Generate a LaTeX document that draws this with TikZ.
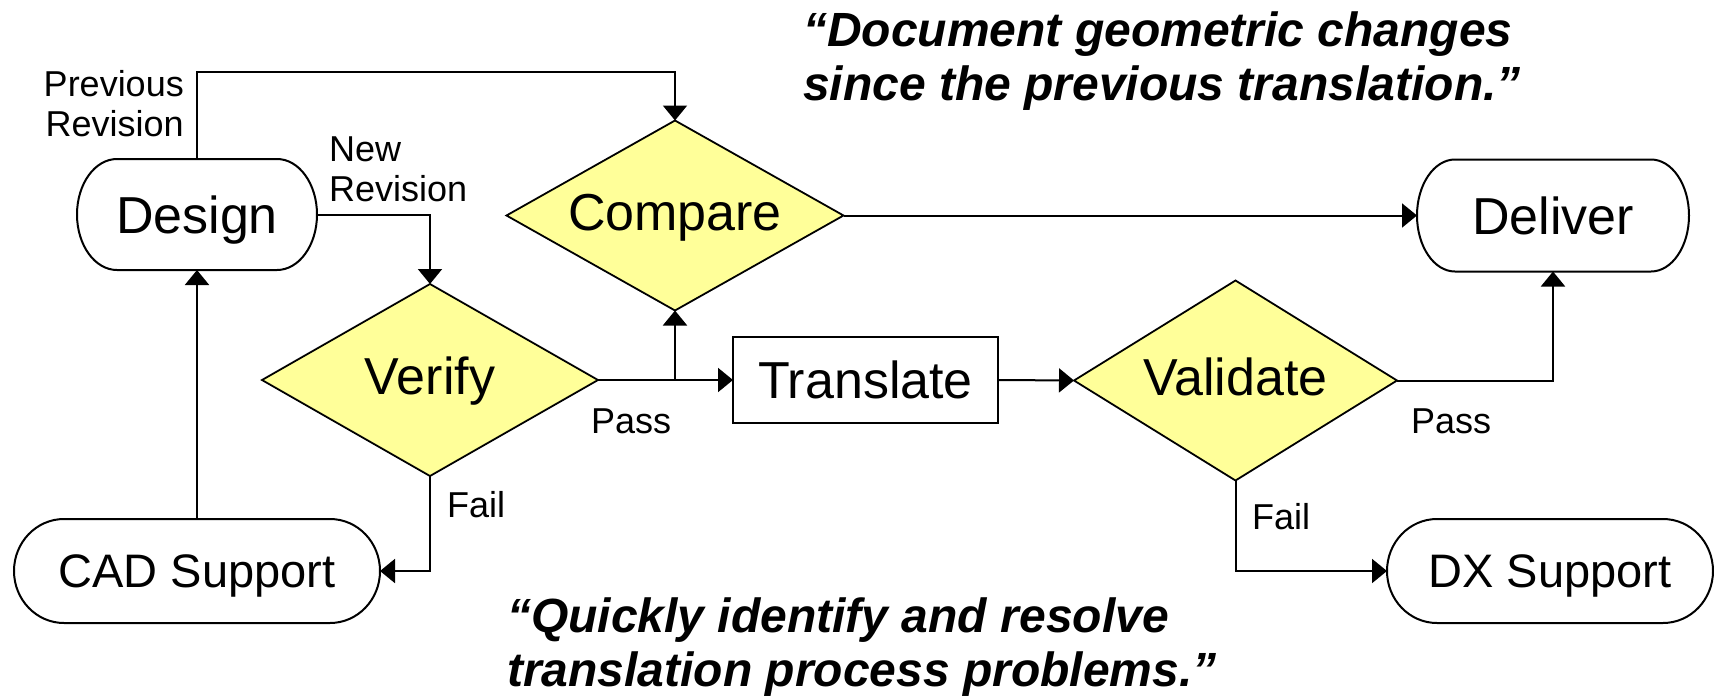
\documentclass[tikz,border=0pt]{standalone}
\usepackage{fontspec}
\setmainfont{Liberation Sans}
\usetikzlibrary{shapes.geometric,arrows.meta}

\definecolor{decisionfill}{HTML}{FFFF99}

% Rounded start/end box: a plain node carries the text, the outline is
% drawn with elliptical ends.
% #1 name, #2 x, #3 y, #4 width, #5 height, #6 end radius, #7 style, #8 text
\newcommand\terminal[8]{%
  \node[#7, minimum width=#4pt, minimum height=#5pt] (#1) at (#2,#3) {#8};
  \draw[line] ([xshift=#6pt]#1.north west) -- ([xshift=-#6pt]#1.north east)
    arc[start angle=90, end angle=-90, x radius=#6pt, y radius={#5pt/2}]
    -- ([xshift=#6pt]#1.south west)
    arc[start angle=270, end angle=90, x radius=#6pt, y radius={#5pt/2}]
    -- cycle;
}

\begin{document}
\begin{tikzpicture}[x=1pt, y=-1pt,
  line/.style={line width=2pt},
  flow/.style={line, -{Triangle[length=15pt, width=24pt]}},
  bigtext/.style={inner sep=0pt, outer sep=0pt,
    font=\fontsize{52}{60}\selectfont, text height=37.2pt, text depth=0pt},
  supporttext/.style={inner sep=0pt, outer sep=0pt,
    font=\fontsize{47}{56}\selectfont, text height=33.7pt, text depth=0pt},
  decision/.style={diamond, draw, line width=1.8pt, fill=decisionfill,
    inner sep=0pt, outer sep=0pt, font=\fontsize{52}{60}\selectfont,
    text height=37.2pt, text depth=8pt},
  process/.style={rectangle, draw, line width=2pt, bigtext},
  lbl/.style={inner sep=0pt, font=\fontsize{36}{40}\selectfont},
  quote/.style={inner sep=0pt, align=left,
    font=\fontsize{48}{54}\selectfont\bfseries\itshape},
]
\useasboundingbox (0,0) rectangle (1714,699);

% start / end boxes
\terminal{design}{197}{214.5}{240}{111}{40}{bigtext}{Design}
\terminal{deliver}{1553}{215.5}{272}{112}{38}{bigtext}{Deliver}
\terminal{cad}{197}{571}{366}{104}{50}{supporttext}{CAD Support}
\terminal{dx}{1550}{571}{326}{104}{50}{supporttext}{DX Support}

% decisions
\node[decision, aspect=1.77, minimum width=337pt, minimum height=190pt]
  (compare) at (675,215.5) {Compare};
\node[decision, aspect=1.75, minimum width=336pt, minimum height=192pt]
  (verify) at (430,380) {Verify};
\node[decision, aspect=1.62, minimum width=323pt, minimum height=200pt]
  (validate) at (1235.5,380.5) {Validate};

% process
\node[process, minimum width=265pt, minimum height=86pt]
  (translate) at (865.5,380) {Translate};

% connectors
\coordinate (prevtop) at (197,72);
\draw[flow] (design.north) -- (prevtop) -| (compare.north);
\draw[flow] (design.east) -| (verify.north);
\draw[flow] (cad.north) -- (design.south);
\draw[flow] (verify.east) -- (translate.west);
\coordinate (passjoin) at (compare.south |- verify.east);
\draw[flow] (passjoin) -- (compare.south);
\draw[flow] (verify.south) |- (cad.east);
\draw[flow] (compare.east) -- (deliver.west);
\draw[flow] (translate.east) -- (validate.west);
\draw[flow] (validate.east) -| (deliver.south);
\draw[flow] (validate.south) |- (dx.west);

% connector labels
\node[lbl, align=right, anchor=east] (prevlbl) at (184,104) {Previous\\Revision};
\node[lbl, align=left, anchor=west] (newlbl) at (329,169) {New\\Revision};
\node[lbl, anchor=base west] (vpass) at (591,433) {Pass};
\node[lbl, anchor=base west] (vfail) at (447,517) {Fail};
\node[lbl, anchor=base west] (lpass) at (1411,433) {Pass};
\node[lbl, anchor=base west] (lfail) at (1252,529) {Fail};

% quotations (base anchor sits on the last line)
\node[quote, anchor=base west] (quotetop) at (803,100)
  {“Document geometric changes\\since the previous translation.”};
\node[quote, anchor=base west] (quotebottom) at (507,686)
  {“Quickly identify and resolve\\translation process problems.”};
\end{tikzpicture}
\end{document}
